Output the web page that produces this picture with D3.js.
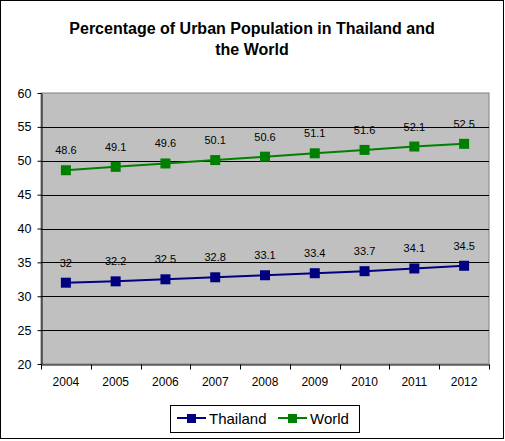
<!DOCTYPE html>
<html><head><meta charset="utf-8">
<script src="https://cdn.jsdelivr.net/npm/d3@7"></script>
<style>body{margin:0;background:#fff}svg{display:block}text{font-family:Arial,"Liberation Sans",sans-serif}</style>
</head><body>
<script>
const years = ["2004","2005","2006","2007","2008","2009","2010","2011","2012"];
const thailand = [32, 32.2, 32.5, 32.8, 33.1, 33.4, 33.7, 34.1, 34.5];
const world = [48.6, 49.1, 49.6, 50.1, 50.6, 51.1, 51.6, 52.1, 52.5];
const yTicks = [20, 25, 30, 35, 40, 45, 50, 55, 60];
const seriesNames = ["Thailand", "World"];
const seriesColors = ["#000080", "#008000"];
const titleLines = ["Percentage of Urban Population in Thailand and", "the World"];

const W = 505, H = 441;
const svg = d3.select("body").append("svg").attr("width", W).attr("height", H);
svg.append("rect").attr("x", 0.5).attr("y", 0.5).attr("width", 503).attr("height", 438)
  .attr("fill", "#fff").attr("stroke", "#000").attr("stroke-width", 1);

const L = 41, R = 489, T = 93, B = 364;
const x = d3.scaleBand().domain(years).range([L, R]);
const y = d3.scaleLinear().domain([20, 60]).range([B, T]);

svg.append("g").selectAll("text").data(titleLines).join("text")
  .attr("x", 252).attr("y", (d, i) => 34 + i * 21)
  .attr("text-anchor", "middle").attr("font-size", 16).attr("font-weight", "bold").text(d => d);

svg.append("rect").attr("x", L).attr("y", T).attr("width", R - L).attr("height", B - T)
  .attr("fill", "#c0c0c0").attr("stroke", "#808080").attr("stroke-width", 1);

svg.append("g").selectAll("line").data(yTicks.filter(t => t > 20 && t < 60)).join("line")
  .attr("x1", L).attr("x2", R).attr("y1", d => Math.round(y(d)) + 0.5).attr("y2", d => Math.round(y(d)) + 0.5)
  .attr("stroke", "#000");

const yAxis = svg.append("g").attr("transform", `translate(${L + 0.5},0)`)
  .call(d3.axisLeft(y).tickValues(yTicks).tickSize(4).tickPadding(6).tickSizeOuter(0));
yAxis.selectAll("text").attr("font-size", 12.5).attr("font-family", "Arial, 'Liberation Sans', sans-serif");
yAxis.selectAll("line,path").attr("stroke", "#000");

const xAxis = svg.append("g").attr("transform", `translate(0,${B + 0.5})`)
  .call(d3.axisBottom(x).tickSize(0).tickPadding(13));
xAxis.selectAll("text").attr("font-size", 12).attr("font-family", "Arial, 'Liberation Sans', sans-serif");
xAxis.select("path").attr("stroke", "#000");
const bounds = years.map(d => x(d)).concat([R]);
xAxis.selectAll("line.btick").data(bounds).join("line").attr("class", "btick")
  .attr("x1", d => Math.round(d) + 0.5).attr("x2", d => Math.round(d) + 0.5)
  .attr("y1", 0).attr("y2", 5).attr("stroke", "#000");

const cx = d => x(d) + x.bandwidth() / 2;
[thailand, world].forEach((vals, si) => {
  const col = seriesColors[si];
  const g = svg.append("g");
  g.append("path").datum(vals)
    .attr("d", d3.line().x((v, i) => cx(years[i])).y(v => y(v)))
    .attr("fill", "none").attr("stroke", col).attr("stroke-width", 2);
  g.selectAll("rect").data(vals).join("rect")
    .attr("x", (v, i) => cx(years[i]) - 5).attr("y", v => y(v) - 5)
    .attr("width", 10).attr("height", 10).attr("fill", col);
  g.selectAll("text").data(vals).join("text")
    .attr("x", (v, i) => cx(years[i])).attr("y", v => y(v) - 16)
    .attr("text-anchor", "middle").attr("font-size", 11).text(v => v);
});

const lg = svg.append("g");
lg.append("rect").attr("x", 170.5).attr("y", 405.5).attr("width", 189).attr("height", 27)
  .attr("fill", "#fff").attr("stroke", "#000");
const legX = [177, 278];
seriesNames.forEach((n, i) => {
  const x0 = legX[i];
  lg.append("line").attr("x1", x0).attr("x2", x0 + 29).attr("y1", 418).attr("y2", 418)
    .attr("stroke", seriesColors[i]).attr("stroke-width", 2);
  lg.append("rect").attr("x", x0 + 10).attr("y", 414).attr("width", 9).attr("height", 9).attr("fill", seriesColors[i]);
  lg.append("text").attr("x", x0 + 32).attr("y", 424).attr("font-size", 15).text(n);
});
</script>
</body></html>
